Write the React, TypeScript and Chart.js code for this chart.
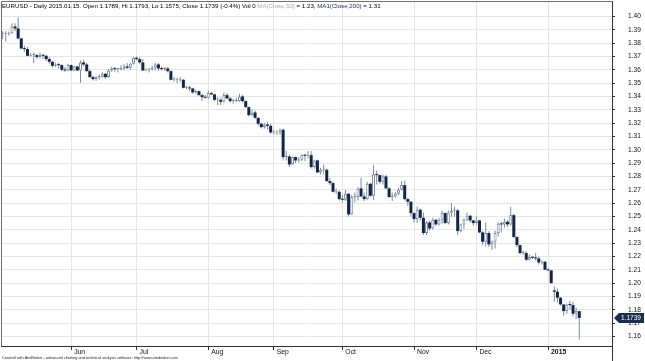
import React, { useEffect, useRef } from 'react';
import { Chart, registerables } from 'chart.js';

Chart.register(...registerables);

// ---- calendar (trading days shown) ----
const firstDay = '2014-05-01';
const lastDay = '2015-01-15';
const emptySlotsRight = 10;

// ---- OHLC values (EURUSD daily) ----
const opens = [
  // May 2014
  1.3870, 1.3870, 1.3870, 1.3874, 1.3925, 1.3910, 1.3835, 1.3760, 1.3755, 1.3705, 1.3710,
  1.3710, 1.3695, 1.3710, 1.3705, 1.3680, 1.3660, 1.3630, 1.3640, 1.3635, 1.3600, 1.3595,
  // Jun
  1.3635, 1.3595, 1.3625, 1.3595, 1.3655, 1.3640, 1.3590, 1.3545, 1.3530, 1.3545, 1.3545,
  1.3570, 1.3545, 1.3595, 1.3610, 1.3605, 1.3605, 1.3610, 1.3625, 1.3615, 1.3645,
  // Jul
  1.3690, 1.3680, 1.3655, 1.3595, 1.3600, 1.3605, 1.3615, 1.3640, 1.3610, 1.3605, 1.3610,
  1.3590, 1.3525, 1.3525, 1.3525, 1.3525, 1.3465, 1.3465, 1.3460, 1.3430, 1.3440, 1.3410, 1.3395,
  // Aug
  1.3390, 1.3425, 1.3415, 1.3375, 1.3375, 1.3360, 1.3410, 1.3385, 1.3365, 1.3365, 1.3365,
  1.3400, 1.3365, 1.3320, 1.3260, 1.3280, 1.3240, 1.3195, 1.3170, 1.3190, 1.3180,
  // Sep
  1.3130, 1.3130, 1.3130, 1.3150, 1.2945, 1.2950, 1.2890, 1.2945, 1.2920, 1.2925, 1.2960,
  1.2955, 1.2960, 1.2870, 1.2920, 1.2830, 1.2850, 1.2850, 1.2765, 1.2750, 1.2685, 1.2685,
  // Oct
  1.2630, 1.2625, 1.2670, 1.2515, 1.2645, 1.2645, 1.2710, 1.2650, 1.2630, 1.2745, 1.2655,
  1.2815, 1.2810, 1.2760, 1.2800, 1.2710, 1.2645, 1.2650, 1.2670, 1.2700, 1.2735, 1.2630, 1.2610,
  // Nov
  1.2525, 1.2480, 1.2550, 1.2490, 1.2375, 1.2455, 1.2410, 1.2475, 1.2440, 1.2475,
  1.2525, 1.2450, 1.2530, 1.2545, 1.2545, 1.2390, 1.2440, 1.2475, 1.2505, 1.2470,
  // Dec
  1.2450, 1.2470, 1.2380, 1.2310, 1.2375, 1.2290, 1.2310, 1.2375, 1.2445, 1.2440, 1.2460,
  1.2440, 1.2510, 1.2345, 1.2285, 1.2225, 1.2225, 1.2175, 1.2195, 1.2190, 1.2185, 1.2155, 1.2160,
  // Jan 2015
  1.2100, 1.2095, 1.1945, 1.1935, 1.1890, 1.1840, 1.1790, 1.1840, 1.1835, 1.1770, 1.1789,
];
const highs = [
  1.3890, 1.3890, 1.3888, 1.3950, 1.3950, 1.3993, 1.3840, 1.3780, 1.3770, 1.3725, 1.3730,
  1.3720, 1.3730, 1.3720, 1.3710, 1.3695, 1.3665, 1.3650, 1.3650, 1.3640, 1.3620, 1.3645,
  1.3640, 1.3630, 1.3630, 1.3669, 1.3676, 1.3650, 1.3600, 1.3555, 1.3550, 1.3565, 1.3585,
  1.3575, 1.3605, 1.3620, 1.3620, 1.3615, 1.3635, 1.3645, 1.3650, 1.3650, 1.3695,
  1.3700, 1.3695, 1.3680, 1.3610, 1.3615, 1.3630, 1.3650, 1.3650, 1.3625, 1.3620, 1.3620,
  1.3595, 1.3545, 1.3540, 1.3545, 1.3530, 1.3480, 1.3480, 1.3465, 1.3450, 1.3445, 1.3420, 1.3410,
  1.3445, 1.3435, 1.3420, 1.3395, 1.3390, 1.3430, 1.3425, 1.3395, 1.3380, 1.3390, 1.3420,
  1.3410, 1.3370, 1.3325, 1.3300, 1.3295, 1.3240, 1.3205, 1.3200, 1.3210, 1.3195,
  1.3150, 1.3145, 1.3160, 1.3160, 1.2990, 1.2965, 1.2950, 1.2950, 1.2945, 1.2965, 1.2970,
  1.2990, 1.2990, 1.2925, 1.2925, 1.2865, 1.2890, 1.2860, 1.2790, 1.2760, 1.2710, 1.2695,
  1.2660, 1.2700, 1.2675, 1.2660, 1.2680, 1.2720, 1.2790, 1.2680, 1.2760, 1.2750, 1.2887,
  1.2845, 1.2815, 1.2815, 1.2810, 1.2720, 1.2680, 1.2685, 1.2715, 1.2765, 1.2770, 1.2640, 1.2615,
  1.2530, 1.2575, 1.2560, 1.2530, 1.2465, 1.2470, 1.2490, 1.2480, 1.2490, 1.2545,
  1.2530, 1.2545, 1.2600, 1.2575, 1.2555, 1.2445, 1.2485, 1.2530, 1.2510, 1.2475,
  1.2500, 1.2475, 1.2390, 1.2455, 1.2390, 1.2320, 1.2395, 1.2455, 1.2460, 1.2485, 1.2475,
  1.2570, 1.2520, 1.2355, 1.2290, 1.2245, 1.2240, 1.2215, 1.2200, 1.2225, 1.2200, 1.2170, 1.2165,
  1.2110, 1.2095, 1.1975, 1.1960, 1.1895, 1.1840, 1.1845, 1.1865, 1.1860, 1.1815, 1.1793,
];
const lows = [
  1.3830, 1.3810, 1.3855, 1.3870, 1.3890, 1.3830, 1.3755, 1.3735, 1.3700, 1.3700, 1.3650,
  1.3680, 1.3685, 1.3680, 1.3665, 1.3645, 1.3615, 1.3620, 1.3610, 1.3590, 1.3585, 1.3590,
  1.3590, 1.3590, 1.3590, 1.3503, 1.3625, 1.3585, 1.3540, 1.3520, 1.3515, 1.3525, 1.3540,
  1.3530, 1.3540, 1.3585, 1.3585, 1.3580, 1.3595, 1.3595, 1.3605, 1.3600, 1.3640,
  1.3670, 1.3645, 1.3590, 1.3590, 1.3580, 1.3595, 1.3595, 1.3590, 1.3595, 1.3590, 1.3580,
  1.3520, 1.3510, 1.3500, 1.3510, 1.3460, 1.3455, 1.3440, 1.3420, 1.3420, 1.3405, 1.3365, 1.3385,
  1.3380, 1.3410, 1.3365, 1.3335, 1.3335, 1.3355, 1.3380, 1.3355, 1.3345, 1.3355, 1.3360,
  1.3355, 1.3315, 1.3250, 1.3255, 1.3230, 1.3180, 1.3160, 1.3160, 1.3150, 1.3120,
  1.3115, 1.3110, 1.3110, 1.2920, 1.2920, 1.2870, 1.2885, 1.2900, 1.2905, 1.2915, 1.2915,
  1.2935, 1.2860, 1.2860, 1.2825, 1.2815, 1.2820, 1.2760, 1.2735, 1.2680, 1.2670, 1.2620,
  1.2605, 1.2615, 1.2500, 1.2510, 1.2605, 1.2620, 1.2645, 1.2615, 1.2625, 1.2650, 1.2625,
  1.2740, 1.2745, 1.2740, 1.2710, 1.2640, 1.2615, 1.2640, 1.2660, 1.2695, 1.2620, 1.2580, 1.2500,
  1.2455, 1.2450, 1.2470, 1.2360, 1.2360, 1.2395, 1.2400, 1.2430, 1.2430, 1.2445,
  1.2445, 1.2440, 1.2500, 1.2500, 1.2360, 1.2380, 1.2405, 1.2465, 1.2455, 1.2430,
  1.2435, 1.2375, 1.2285, 1.2275, 1.2270, 1.2250, 1.2260, 1.2350, 1.2380, 1.2415, 1.2420,
  1.2430, 1.2340, 1.2270, 1.2215, 1.2210, 1.2165, 1.2170, 1.2180, 1.2170, 1.2140, 1.2140, 1.2100,
  1.2090, 1.1995, 1.1860, 1.1855, 1.1830, 1.1755, 1.1770, 1.1800, 1.1750, 1.1730, 1.1575,
];
const closes = [
  1.3870, 1.3870, 1.3874, 1.3925, 1.3910, 1.3835, 1.3760, 1.3755, 1.3705, 1.3710, 1.3710,
  1.3695, 1.3710, 1.3705, 1.3680, 1.3660, 1.3630, 1.3640, 1.3635, 1.3600, 1.3595, 1.3635,
  1.3595, 1.3625, 1.3595, 1.3655, 1.3640, 1.3590, 1.3545, 1.3530, 1.3545, 1.3545, 1.3570,
  1.3545, 1.3595, 1.3610, 1.3605, 1.3605, 1.3610, 1.3625, 1.3615, 1.3645, 1.3690,
  1.3680, 1.3655, 1.3595, 1.3600, 1.3605, 1.3615, 1.3640, 1.3610, 1.3605, 1.3610, 1.3590,
  1.3525, 1.3525, 1.3525, 1.3525, 1.3465, 1.3465, 1.3460, 1.3430, 1.3440, 1.3410, 1.3395, 1.3390,
  1.3425, 1.3415, 1.3375, 1.3375, 1.3360, 1.3410, 1.3385, 1.3365, 1.3365, 1.3365, 1.3400,
  1.3365, 1.3320, 1.3260, 1.3280, 1.3240, 1.3195, 1.3170, 1.3190, 1.3180, 1.3130,
  1.3130, 1.3130, 1.3150, 1.2945, 1.2950, 1.2890, 1.2945, 1.2920, 1.2925, 1.2960, 1.2955,
  1.2960, 1.2870, 1.2920, 1.2830, 1.2850, 1.2850, 1.2765, 1.2750, 1.2685, 1.2685, 1.2630,
  1.2625, 1.2670, 1.2515, 1.2645, 1.2645, 1.2710, 1.2650, 1.2630, 1.2745, 1.2655, 1.2815,
  1.2810, 1.2760, 1.2800, 1.2710, 1.2645, 1.2650, 1.2670, 1.2700, 1.2735, 1.2630, 1.2610, 1.2525,
  1.2480, 1.2550, 1.2490, 1.2375, 1.2455, 1.2410, 1.2475, 1.2440, 1.2475, 1.2525,
  1.2450, 1.2530, 1.2545, 1.2545, 1.2390, 1.2440, 1.2475, 1.2505, 1.2470, 1.2450,
  1.2470, 1.2380, 1.2310, 1.2375, 1.2290, 1.2310, 1.2375, 1.2445, 1.2440, 1.2460, 1.2440,
  1.2510, 1.2345, 1.2285, 1.2225, 1.2225, 1.2175, 1.2195, 1.2190, 1.2185, 1.2155, 1.2160, 1.2100,
  1.2095, 1.2000, 1.1935, 1.1890, 1.1840, 1.1790, 1.1840, 1.1835, 1.1770, 1.1790, 1.1739,
];

// ---- axis labels / text ----
const yTickValues = [
  1.16, 1.17, 1.18, 1.19, 1.20, 1.21, 1.22, 1.23, 1.24, 1.25, 1.26, 1.27, 1.28,
  1.29, 1.30, 1.31, 1.32, 1.33, 1.34, 1.35, 1.36, 1.37, 1.38, 1.39, 1.40,
];
const yMin = 1.1528;
const yMax = 1.4116;
const monthNames = ['Jan', 'Feb', 'Mar', 'Apr', 'May', 'Jun', 'Jul', 'Aug', 'Sep', 'Oct', 'Nov', 'Dec'];
const titleParts: [string, string][] = [
  ['EURUSD - Daily 2015.01.15. Open 1.1789, Hi 1.1793, Lo 1.1575, Close 1.1739 (-0.4%) Vol 0 ', '#000000'],
  ['MA(Close,50)', '#a9a9b8'],
  [' = 1.23, ', '#000000'],
  ['MA1(Close,200)', '#1c2c6c'],
  [' = 1.31', '#000000'],
];
const footerText = 'Created with AmiBroker - advanced charting and technical analysis software. http://www.amibroker.com';
const lastPriceText = '1.1739';
const lastPrice = 1.1739;

const FONT = '"Liberation Sans", Arial, sans-serif';

function tradingDays(start: string, end: string): string[] {
  const out: string[] = [];
  const d = new Date(start + 'T00:00:00Z');
  const e = new Date(end + 'T00:00:00Z');
  while (d <= e) {
    const wd = d.getUTCDay();
    if (wd !== 0 && wd !== 6) out.push(d.toISOString().slice(0, 10));
    d.setUTCDate(d.getUTCDate() + 1);
  }
  return out;
}

export default function App() {
  const ref = useRef<HTMLCanvasElement | null>(null);

  useEffect(() => {
    document.body.style.margin = '0';
    const canvas = ref.current;
    if (!canvas) return;

    const dates = tradingDays(firstDay, lastDay);
    const labels = dates.concat(Array.from({ length: emptySlotsRight }, (_, i) => `pad${i}`));
    const monthLabel: Record<number, { text: string; year: boolean }> = {};
    for (let i = 1; i < dates.length; i++) {
      const m = dates[i].slice(5, 7);
      if (m !== dates[i - 1].slice(5, 7)) {
        const mi = parseInt(m, 10) - 1;
        monthLabel[i] = mi === 0 ? { text: dates[i].slice(0, 4), year: true } : { text: monthNames[mi], year: false };
      }
    }

    const n = closes.length;
    const bodies = labels.map((_, i) => (i < n ? [Math.min(opens[i], closes[i]), Math.max(opens[i], closes[i])] : null));
    const wicks = labels.map((_, i) => (i < n ? [lows[i], highs[i]] : null));
    const isUp = (i: number) => i < n && closes[i] >= opens[i];

    const downColor = '#122646';
    const upBorder = '#7d8da5';
    const wickColor = '#7d8da5';

    const decorPlugin = {
      id: 'decor',
      afterDatasetsDraw(chart: any) {
        const { ctx, chartArea } = chart;
        ctx.save();
        ctx.strokeStyle = '#6e6e6e';
        ctx.lineWidth = 1;
        ctx.beginPath();
        ctx.moveTo(chartArea.left + 0.5, chartArea.bottom);
        ctx.lineTo(chartArea.left + 0.5, chartArea.top + 0.5);
        ctx.lineTo(chartArea.right, chartArea.top + 0.5);
        ctx.stroke();
        ctx.strokeStyle = '#333333';
        ctx.beginPath();
        ctx.moveTo(Math.round(chartArea.right) + 0.5, chartArea.bottom);
        ctx.lineTo(Math.round(chartArea.right) + 0.5, chart.height);
        ctx.stroke();
        ctx.restore();
      },
      afterDraw(chart: any) {
        const { ctx, chartArea, scales } = chart;
        ctx.save();
        // title
        ctx.font = `6.15px ${FONT}`;
        ctx.textBaseline = 'middle';
        let x = 2;
        for (const [t, c] of titleParts) {
          ctx.fillStyle = c;
          ctx.fillText(t, x, 6.5);
          x += ctx.measureText(t).width;
        }
        // footer
        ctx.font = `3.85px ${FONT}`;
        ctx.fillStyle = '#222222';
        ctx.textBaseline = 'middle';
        ctx.fillText(footerText, 2, 358);
        // last price tag
        const y = Math.round(scales.y.getPixelForValue(lastPrice));
        const x0 = Math.round(chartArea.right) + 2;
        ctx.fillStyle = '#1a2f4f';
        ctx.beginPath();
        ctx.moveTo(x0, y);
        ctx.lineTo(x0 + 5, y - 5);
        ctx.lineTo(x0 + 30, y - 5);
        ctx.lineTo(x0 + 30, y + 5);
        ctx.lineTo(x0 + 5, y + 5);
        ctx.closePath();
        ctx.fill();
        ctx.fillStyle = '#ffffff';
        ctx.font = `6.5px ${FONT}`;
        ctx.textAlign = 'left';
        ctx.fillText(lastPriceText, x0 + 7, y + 0.5);
        ctx.restore();
      },
    };

    const chart = new Chart(canvas, {
      type: 'bar',
      data: {
        labels,
        datasets: [
          {
            label: 'body',
            data: bodies as any,
            order: 1,
            barThickness: 3,
            minBarLength: 1,
            inflateAmount: 0,
            borderSkipped: false,
            grouped: false,
            backgroundColor: (c: any) => (isUp(c.dataIndex) ? '#ffffff' : downColor),
            borderColor: (c: any) => (isUp(c.dataIndex) ? upBorder : downColor),
            borderWidth: (c: any) => (isUp(c.dataIndex) ? 1 : 0),
          } as any,
          {
            label: 'wick',
            data: wicks as any,
            order: 2,
            barThickness: 1,
            inflateAmount: 0,
            grouped: false,
            backgroundColor: wickColor,
            borderWidth: 0,
          } as any,
        ],
      },
      options: {
        animation: false,
        responsive: false,
        maintainAspectRatio: false,
        events: [],
        layout: { padding: { top: 1, left: 1, right: 0, bottom: 0 } },
        plugins: { legend: { display: false }, tooltip: { enabled: false }, title: { display: false } },
        scales: {
          x: {
            type: 'category',
            offset: true,
            afterFit: (s: any) => { s.height = 15; s.paddingLeft = 0; s.paddingRight = 0; },
            grid: {
              offset: false,
              drawTicks: true,
              tickLength: 4,
              color: (c: any) => (monthLabel[c.index] ? '#e4e4e4' : 'rgba(0,0,0,0)'),
              tickColor: (c: any) => (monthLabel[c.index] ? '#333333' : 'rgba(0,0,0,0)'),
            },
            border: { display: true, color: '#333333' },
            ticks: {
              autoSkip: false,
              maxRotation: 0,
              minRotation: 0,
              align: 'start',
              labelOffset: 3,
              padding: -2,
              color: '#111111',
              font: (c: any) => ({ family: FONT, size: 6.8, weight: monthLabel[c.index]?.year ? 'bold' : 'normal' }),
              callback: (_v: any, i: number) => (monthLabel[i] ? monthLabel[i].text : ''),
            },
          },
          y: {
            type: 'linear',
            position: 'right',
            min: yMin,
            max: yMax,
            afterFit: (s: any) => { s.width = 33; s.paddingTop = 0; s.paddingBottom = 0; },
            afterBuildTicks: (s: any) => { s.ticks = yTickValues.map((v) => ({ value: v })); },
            grid: { color: '#e6e6e6', tickLength: 3, tickColor: '#333333' },
            border: { display: true, color: '#333333' },
            ticks: {
              padding: 13,
              color: '#111111',
              font: { family: FONT, size: 6.6 },
              callback: (v: any) => Number(v).toFixed(2),
            },
          },
        },
      },
      plugins: [decorPlugin],
    } as any);

    return () => chart.destroy();
  }, []);

  return (
    <div style={{ position: 'relative', width: 645, height: 361, background: '#ffffff' }}>
      <canvas ref={ref} width={645} height={361} style={{ display: 'block', width: 645, height: 361 }} />
    </div>
  );
}
